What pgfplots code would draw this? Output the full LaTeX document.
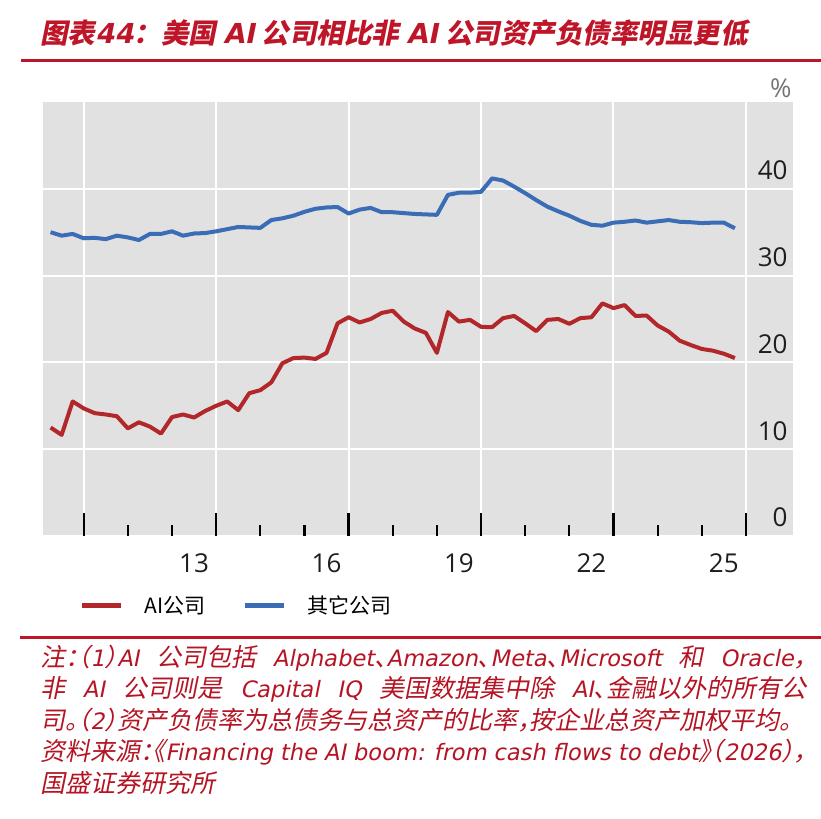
\documentclass[border=0pt]{standalone}
\usepackage{pgfplots}
\pgfplotsset{compat=1.18}
\usepackage{fontspec}
\setmainfont{Open Sans}
\newfontfamily\tickf{Open Sans}
\newfontfamily\cjk{Noto Sans CJK SC}
\newfontfamily\cjki[FakeSlant=0.2]{Noto Sans CJK SC}
\newfontfamily\cjkn[FakeSlant=0.2,RawFeature=+halt]{Noto Sans CJK SC}
\newfontfamily\dvi[FakeSlant=0.2]{DejaVu Sans}
\newcommand\C[1]{{\cjkn\fontsize{12.5}{12.5}\selectfont #1}}
\definecolor{bg}{RGB}{225,225,225}
\definecolor{aired}{RGB}{178,40,42}
\definecolor{othblue}{RGB}{58,109,181}
\definecolor{tred}{RGB}{190,22,40}
\definecolor{nred}{RGB}{180,20,35}
\definecolor{tickc}{RGB}{30,30,30}

\pgfplotstableread{
x r b
2010.25 12.5 35.0
2010.50 11.65 34.6
2010.75 15.5 34.8
2011.00 14.7 34.3
2011.25 14.15 34.35
2011.50 14.0 34.2
2011.75 13.8 34.6
2012.00 12.4 34.4
2012.25 13.1 34.1
2012.50 12.6 34.8
2012.75 11.8 34.8
2013.00 13.7 35.1
2013.25 14.0 34.6
2013.50 13.65 34.85
2013.75 14.4 34.9
2014.00 15.0 35.1
2014.25 15.5 35.35
2014.50 14.5 35.6
2014.75 16.45 35.55
2015.00 16.8 35.5
2015.25 17.7 36.4
2015.50 19.9 36.6
2015.75 20.5 36.9
2016.00 20.55 37.35
2016.25 20.4 37.7
2016.50 21.1 37.85
2016.75 24.5 37.9
2017.00 25.2 37.15
2017.25 24.6 37.6
2017.50 25.0 37.8
2017.75 25.7 37.3
2018.00 25.95 37.3
2018.25 24.7 37.2
2018.50 23.9 37.1
2018.75 23.4 37.05
2019.00 21.1 37.0
2019.25 25.8 39.3
2019.50 24.7 39.55
2019.75 24.9 39.55
2020.00 24.1 39.65
2020.25 24.05 41.2
2020.50 25.1 40.95
2020.75 25.35 40.25
2021.00 24.5 39.5
2021.25 23.6 38.7
2021.50 24.9 37.95
2021.75 25.0 37.4
2022.00 24.45 36.9
2022.25 25.1 36.3
2022.50 25.2 35.85
2022.75 26.8 35.75
2023.00 26.25 36.1
2023.25 26.6 36.2
2023.50 25.35 36.35
2023.75 25.4 36.1
2024.00 24.25 36.25
2024.25 23.55 36.4
2024.50 22.5 36.2
2024.75 22.0 36.15
2025.00 21.55 36.05
2025.25 21.35 36.1
2025.50 21.0 36.1
2025.75 20.5 35.45
}\data

\begin{document}
\XeTeXlinebreaklocale "zh"
\XeTeXlinebreakskip=0pt plus 3pt
\begin{tikzpicture}
\path[use as bounding box] (0,0) rectangle (410.5pt,-409.5pt);
\begin{axis}[
  at={(21.5pt,-51pt)}, anchor=north west,
  scale only axis, width=375pt, height=217pt,
  xmin=2010.078, xmax=2027.066, ymin=0, ymax=50,
  axis background/.style={fill=bg},
  axis line style={draw=none},
  xtick={2013.5,2016.5,2019.5,2022.5,2025.5},
  xticklabels={13,16,19,22,25},
  minor xtick={2012,2013,2015,2016,2018,2019,2021,2022,2024,2025},
  extra x ticks={2011,2014,2017,2020,2023,2026},
  extra x tick labels={},
  extra x tick style={grid=major, major tick length=11.5pt},
  ytick={0,10,20,30,40},
  ymajorgrids,
  major grid style={white, line width=1pt},
  major tick length=0pt,
  minor tick length=5.5pt,
  tick style={black, line width=1.1pt},
  tick align=inside,
  xtick pos=lower,
  ytick pos=right,
  yticklabel pos=right,
  /pgf/number format/assume math mode=true,
  xticklabel style={font=\tickf\fontsize{13}{13}\selectfont, text=tickc, anchor=north, inner sep=0pt, yshift=-8.5pt},
  yticklabel style={font=\tickf\fontsize{13}{13}\selectfont, text=tickc, anchor=base east, inner sep=0pt, xshift=-2.5pt, yshift=4.5pt},
  legend style={at={(axis description cs:0.048,-0.1613)}, anchor=west, draw=none, fill=none, inner sep=0pt,
    font=\cjk\fontsize{10.5}{10.5}\selectfont, column sep=0pt,
    /tikz/every odd column/.append style={column sep=10.5pt},
    /tikz/every even column/.append style={column sep=18.5pt},
    nodes={inner sep=0pt}},
  legend columns=2,
  legend image code/.code={\draw[#1, line width=2.5pt] (0pt,0pt) -- (19.5pt,0pt);},
]
\addplot[aired, line width=2pt, line join=round] table[x=x, y=r] {\data};
\addlegendentry{AI公司}
\addplot[othblue, line width=2pt, line join=round] table[x=x, y=b] {\data};
\addlegendentry{其它公司}
\end{axis}
\node[anchor=east, inner sep=0pt, text=black!55, font=\tickf\fontsize{13}{13}\selectfont] at (396pt,-44pt) {\%};
% title
\node[anchor=west, inner sep=0pt, text=tred, font=\fontsize{13.75}{13.75}\selectfont\bfseries] at (20pt,-16.5pt)
  {{\cjki 图表}{\dvi 44}{\cjki ：美国} {\dvi AI} {\cjki 公司相比非} {\dvi AI} {\cjki 公司资产负债率明显更低}};
\fill[tred] (10.5pt,-29.25pt) rectangle (410.5pt,-30.75pt);
\fill[tred] (10pt,-317.75pt) rectangle (410.5pt,-319.25pt);
% notes
\begin{scope}[every node/.style={anchor=west, inner sep=0pt, text=nred, font=\dvi\fontsize{11.3}{11.3}\selectfont}]
\node at (20pt,-329pt) {\makebox[383pt][s]{\C{注：（}1\C{）}AI \C{公司包括} Alphabet\C{、}Amazon\C{、}Meta\C{、}Microsoft \C{和} Oracle\C{，}}};
\node at (20pt,-344.5pt) {\makebox[383pt][s]{\C{非} AI \C{公司则是} Capital IQ \C{美国数据集中除} AI\C{、金融以外的所有公}}};
\node at (20pt,-360pt) {\makebox[383pt][s]{\C{司。（}2\C{）资产负债率为总债务与总资产的比率，按企业总资产加权平均。}}};
\node at (20pt,-376pt) {\makebox[383pt][s]{\C{资料来源：《}Financing the AI boom: from cash flows to debt\C{》（}2026\C{），}}};
\node at (20pt,-391.5pt) {\C{国盛证券研究所}};
\end{scope}
\end{tikzpicture}
\end{document}
